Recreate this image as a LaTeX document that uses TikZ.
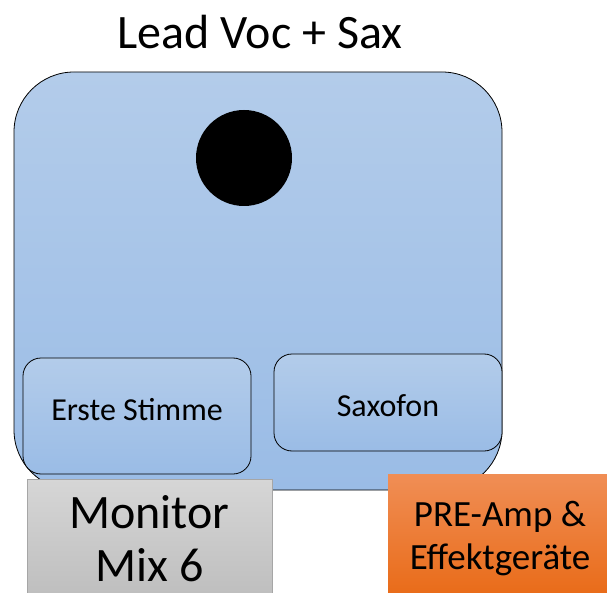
\documentclass[tikz,border=0pt]{standalone}
\usepackage{fontspec}
\setmainfont{Carlito}
\begin{document}
\begin{tikzpicture}[x=1pt,y=-1pt]
\tikzset{every node/.style={inner sep=0pt,outer sep=0pt,align=center}}
\tikzset{bluebox/.style={draw=black,line width=0.8pt,top color=blueTop,bottom color=blueBot}}
\tikzset{part/.style={bluebox,rounded corners=18pt,minimum width=228pt}}
\tikzset{parttext/.style={font=\fontsize{32}{38}\selectfont}}
\definecolor{blueTop}{HTML}{B3CCEA}
\definecolor{blueBot}{HTML}{9ABCE6}
\definecolor{grayTop}{HTML}{D6D6D6}
\definecolor{grayBot}{HTML}{BFBFBF}
\definecolor{orTop}{HTML}{F08E55}
\definecolor{orBot}{HTML}{E96C1A}
\useasboundingbox (0,0) rectangle (607,593);
\node[fill=white,minimum width=607pt,minimum height=593pt] (bg) at (303.5,296.5) {};
% title
\node[font=\fontsize{48}{54}\selectfont] (title) at (260,32) {Lead Voc + Sax};
% musician
\node[bluebox,rounded corners=60pt,minimum width=488pt,minimum height=418pt] (stage) at (258,281) {};
\node[circle,fill=black,minimum size=96pt] (head) at (244,158) {};
\node[part,minimum height=116pt] (voc) at (137,416) {};
\node[parttext] (vocText) at (137,410) {Erste Stimme};
\node[part,minimum height=97pt] (sax) at (388,402.5) {};
\node[parttext] (saxText) at (388,406) {Saxofon};
% outputs
\node[draw=gray!70,top color=grayTop,bottom color=grayBot,minimum width=245pt,minimum height=114pt] (mon) at (149.5,536) {};
\node[font=\fontsize{48}{53}\selectfont] (monText) at (149.5,538.5) {Monitor\\Mix 6};
\node[top color=orTop,bottom color=orBot,minimum width=219pt,minimum height=119pt] (fx) at (497.5,533.5) {};
\node[font=\fontsize{37}{43}\selectfont] (fxText) at (500,538.5) {PRE-Amp \&\\Effektgeräte};
\end{tikzpicture}
\end{document}
